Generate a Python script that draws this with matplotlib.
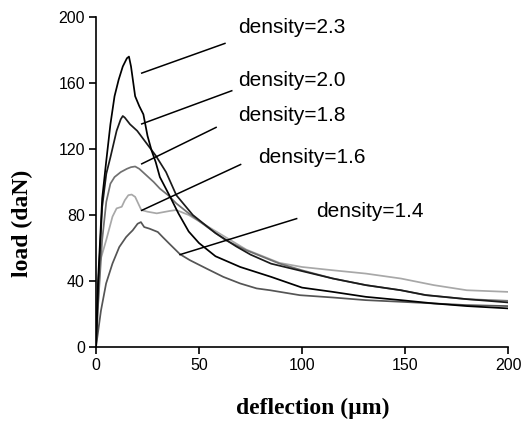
import matplotlib
matplotlib.use("Agg")
import matplotlib.pyplot as plt

# ---- data ----
x_23 = [0, 1, 3, 5, 7, 9, 11, 13, 15, 16, 17, 19, 21, 23, 25, 27, 29, 31, 36, 40, 45, 50, 58, 70, 85, 100, 115, 131, 148, 164, 180, 200]
y_23 = [0, 40, 90, 113, 135, 152, 162, 170, 175, 176, 170, 152, 146, 141, 128, 119, 112, 103, 91, 81, 70, 63, 55, 48.5, 42.5, 36, 33.4, 30.4, 28.4, 26.4, 24.8, 23.4]

x_20 = [0, 1, 3, 5, 7, 10, 12, 13, 14, 16.5, 20, 23, 26, 29, 34, 39, 47, 58, 68, 75, 85, 100, 115, 131, 148, 160, 180, 200]
y_20 = [0, 35, 85, 105, 115, 131, 138, 140, 139, 135, 131, 126, 121, 116, 106, 92, 80, 69, 61, 56, 50.5, 46, 41.5, 37.5, 34.4, 31.5, 29, 27]

x_18 = [0, 1, 3, 5, 7, 9, 12, 15, 17, 19, 21, 24.5, 28, 31, 35, 39, 45, 54, 63, 73, 89, 100, 115, 131, 148, 160, 180, 200]
y_18 = [0, 25, 65, 88, 99, 103, 106, 108, 109, 109.4, 108, 104, 100, 96, 92, 87, 81, 72.7, 64.7, 58.6, 50.6, 46.5, 41.5, 37.5, 34.4, 31.4, 29, 28]

x_16 = [0, 2, 5, 8, 10, 12.5, 14, 15.7, 17.3, 19, 20.5, 22, 25, 29.5, 36, 39, 45, 57, 73, 89, 100, 115, 131, 148, 164, 180, 200]
y_16 = [0, 52, 65, 79, 84, 85, 89, 92, 92.4, 91, 87, 83, 82, 81, 82.5, 83, 80, 71, 59, 51, 48.5, 46.5, 44.5, 41.5, 37.5, 34.4, 33.4]

x_14 = [0, 2.4, 4.9, 8, 11.3, 14.6, 16.2, 17.8, 20.2, 21.8, 23.4, 26, 30, 32.4, 35.6, 40.8, 45.6, 53.7, 61.8, 70, 78, 84.5, 99, 115, 131, 148, 164, 180, 200]
y_14 = [0, 22, 38.5, 50.6, 60.6, 66.6, 68.7, 70.7, 74.7, 75.7, 72.7, 71.7, 69.7, 66.6, 62.6, 56.2, 52.6, 47.5, 42.5, 38.5, 35.5, 34.4, 31.4, 30, 28.4, 27.4, 26.4, 25.4, 24.8]

labels = ["density=2.3", "density=2.0", "density=1.8", "density=1.6", "density=1.4"]
x_ticks = [0, 50, 100, 150, 200]
y_ticks = [0, 40, 80, 120, 160, 200]

# annotation geometry (data coords): text anchor (left, center) and leader line
text_pos = [(68.9, 193.4), (68.9, 161.3), (68.9, 140.2), (78.6, 114.8), (106.8, 82.2)]
leader = [((22.2, 166), (62.6, 184)),
          ((22.2, 135.2), (65.9, 155.3)),
          ((22.2, 111), (58.3, 133.1)),
          ((22.2, 82.8), (70.2, 110.6)),
          ((40.8, 56), (97.4, 77.8))]

series = [(x_23, y_23, "#000000"), (x_20, y_20, "#1a1a1a"), (x_18, y_18, "#707070"),
          (x_16, y_16, "#a8a8a8"), (x_14, y_14, "#555555")]

fig = plt.figure(figsize=(5.26, 4.46), dpi=100)
ax = fig.add_axes([96/526, 1-347/446, (508-96)/526, (347-17)/446])

draw_order = [3, 2, 4, 1, 0]
for i in draw_order:
    xs, ys, c = series[i]
    ax.plot(xs, ys, color=c, lw=1.25, solid_joinstyle="round")

for (p0, p1), (tx, ty), lab in zip(leader, text_pos, labels):
    ax.plot([p0[0], p1[0]], [p0[1], p1[1]], color="black", lw=1.1)
    ax.text(tx, ty, lab, ha="left", va="center", fontsize=15, family="Liberation Sans")

ax.set_xlim(0, 200)
ax.set_ylim(0, 200)
ax.set_xticks(x_ticks)
ax.set_yticks(y_ticks)
for s in ["top", "right"]:
    ax.spines[s].set_visible(False)
for s in ["left", "bottom"]:
    ax.spines[s].set_linewidth(1.2)
ax.tick_params(direction="out", length=5, width=1.2, labelsize=11.5, pad=3)
for lab in ax.get_xticklabels() + ax.get_yticklabels():
    lab.set_family("Liberation Sans")

fig.text(313/526, 1-408/446, "deflection (µm)", ha="center", va="center",
         fontsize=17, fontweight="bold", family="Liberation Serif")
fig.text(22/526, 1-223/446, "load (daN)", ha="center", va="center", rotation=90,
         fontsize=17, fontweight="bold", family="Liberation Serif")

fig.savefig("out.png", dpi=100)
